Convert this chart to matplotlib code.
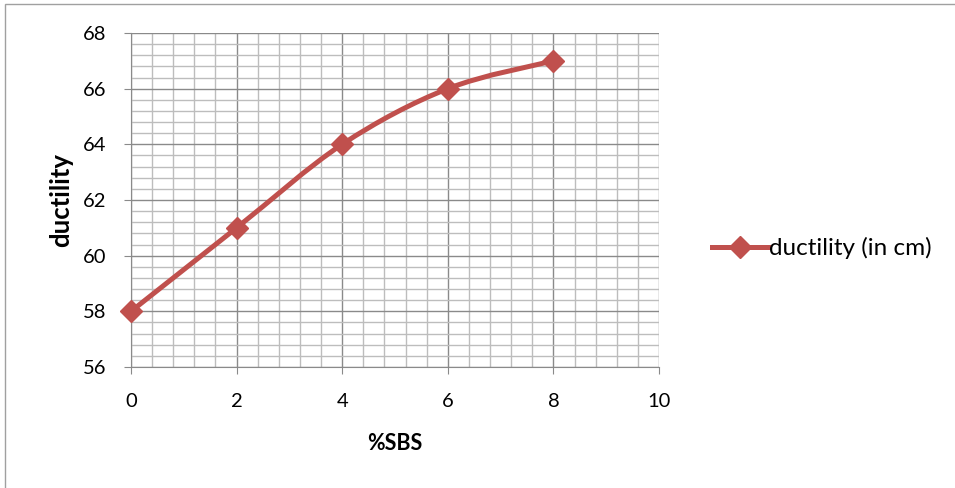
import matplotlib
matplotlib.use("Agg")
import matplotlib.pyplot as plt
from matplotlib.path import Path
from matplotlib.patches import PathPatch, Rectangle
from matplotlib.lines import Line2D
import numpy as np

sbs = [0, 2, 4, 6, 8]
ductility = [58, 61, 64, 66, 67]
series_name = "ductility (in cm)"
x_ticks = [0, 2, 4, 6, 8, 10]
y_ticks = [56, 58, 60, 62, 64, 66, 68]

color = "#C0504D"
plt.rcParams['font.family'] = ['Lato', 'DejaVu Sans']

fig = plt.figure(figsize=(9.55, 4.88), dpi=100)
fig.patches.append(Rectangle((5/955, -0.01), 1.0, 1 - 4/488 + 0.01, transform=fig.transFigure,
                             fill=False, edgecolor="#a0a0a0", linewidth=1.0))
ax = fig.add_axes([131/955, 1 - 367/488, (659 - 131)/955, (367 - 33)/488])

ax.set_xlim(0, 10)
ax.set_ylim(56, 68)
ax.set_xticks(x_ticks)
ax.set_yticks(y_ticks)
ax.set_xticks(np.arange(0, 10.01, 0.4), minor=True)
ax.set_yticks(np.arange(56, 68.01, 0.4), minor=True)
ax.grid(which="major", color="#8a8a8a", linewidth=1.0)
ax.grid(which="minor", color="#bdbdbd", linewidth=1.0)
ax.set_axisbelow(True)
ax.tick_params(which="minor", length=0)
ax.tick_params(which="major", length=5, color="#8a8a8a", labelsize=14.5)
ax.tick_params(axis="x", pad=14)
ax.tick_params(axis="y", pad=13)
for s in ["top", "right"]:
    ax.spines[s].set_visible(False)
for s in ["left", "bottom"]:
    ax.spines[s].set_color("#8a8a8a")

# smoothed line (Bezier through data points)
pts = np.column_stack([sbs, ductility]).astype(float)
verts = [tuple(pts[0])]
codes = [Path.MOVETO]
n = len(pts)
for i in range(n - 1):
    p0 = pts[i - 1] if i > 0 else pts[i]
    p1 = pts[i]
    p2 = pts[i + 1]
    p3 = pts[i + 2] if i + 2 < n else pts[i + 1]
    c1 = p1 + (p2 - p0) / 6
    c2 = p2 - (p3 - p1) / 6
    verts += [tuple(c1), tuple(c2), tuple(p2)]
    codes += [Path.CURVE4] * 3
ax.add_patch(PathPatch(Path(verts, codes), facecolor="none", edgecolor=color, linewidth=3.6,
                       clip_on=False, zorder=3, capstyle="round", joinstyle="round"))
ax.plot(sbs, ductility, linestyle="none", marker="D", markersize=11.5, color=color, clip_on=False, zorder=4)

ax.set_xlabel("%SBS", fontsize=15.5, fontweight="bold", labelpad=16)
ax.set_ylabel("ductility", fontsize=18.5, fontweight="bold", labelpad=7)

handle = Line2D([], [], color=color, linewidth=3.6, marker="D", markersize=11.5)
fig.legend([handle], [series_name], loc="center left", bbox_to_anchor=(712/955, 1 - 248/488),
           frameon=False, fontsize=17.5, handlelength=2.3, handletextpad=0.05, borderpad=0,
           borderaxespad=0)

fig.savefig("out.png", dpi=100)
